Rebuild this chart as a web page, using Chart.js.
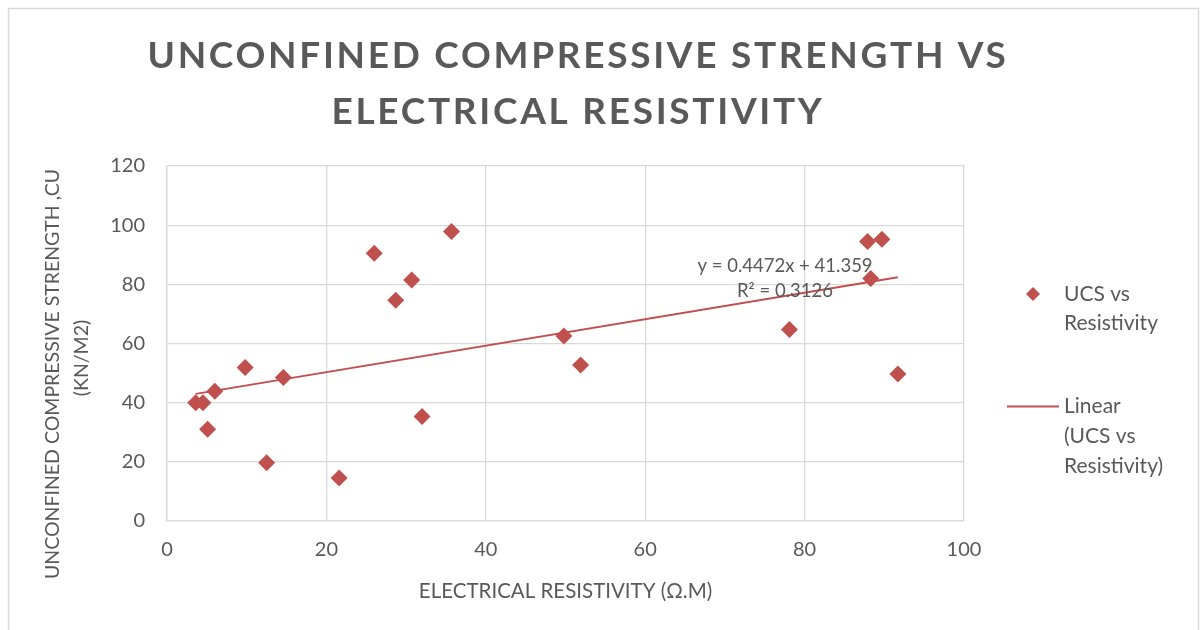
<!DOCTYPE html>
<html>
<head>
<meta charset="utf-8">
<title>UCS vs Resistivity</title>
<script src="https://cdn.jsdelivr.net/npm/chart.js@4.4.1/dist/chart.umd.min.js"></script>
<style>
    html, body { margin: 0; padding: 0; background: #ffffff; }
    #wrap { position: relative; width: 1202px; height: 630px; }
</style>
</head>
<body>
<div id="wrap"><canvas id="ucsChart" width="1202" height="630"></canvas></div>
<script>
// Data
const resistivity = [3.6, 4.5, 5.1, 6.0, 9.8, 12.5, 14.6, 21.6, 26.0, 28.7, 30.7, 32.0, 35.7, 49.8, 51.9, 78.1, 87.9, 89.7, 88.3, 91.7];
const ucsValues = [40.0, 40.0, 31.0, 43.9, 51.9, 19.7, 48.5, 14.5, 90.5, 74.6, 81.5, 35.3, 97.9, 62.5, 52.7, 64.7, 94.5, 95.2, 82.0, 49.7];

// Trendline as printed on the chart
const trendSlope = 0.4472;
const trendIntercept = 41.359;
const trendLabel = ['y = 0.4472x + 41.359', 'R\u00b2 = 0.3126'];

const xTicks = [0, 20, 40, 60, 80, 100];
const yTicks = [0, 20, 40, 60, 80, 100, 120];

const titleLines = ['UNCONFINED COMPRESSIVE STRENGTH VS', 'ELECTRICAL RESISTIVITY'];
const xTitle = 'ELECTRICAL RESISTIVITY (\u03a9.M)';
const yTitleLines = ['UNCONFINED COMPRESSIVE STRENGTH ,CU', '(KN/M2)'];
const seriesName = ['UCS vs', 'Resistivity'];
const trendName = ['Linear', '(UCS vs', 'Resistivity)'];

const RED = '#C0504D';
const TEXT = '#595959';
const GRID = '#d9d9d9';
const FONT = 'Lato, "Open Sans", sans-serif';

const points = resistivity.map((x, i) => ({ x: x, y: ucsValues[i] }));
const xMin = Math.min(...resistivity);
const xMax = Math.max(...resistivity);
const trendPoints = [
    { x: xMin, y: trendSlope * xMin + trendIntercept },
    { x: xMax, y: trendSlope * xMax + trendIntercept }
];

// Title, axis titles, legend, equation and outer frame
const decorations = {
    id: 'decorations',
    afterDraw(chart) {
        const ctx = chart.ctx;
        const area = chart.chartArea;
        ctx.save();

        ctx.strokeStyle = GRID;
        ctx.lineWidth = 1.5;
        ctx.strokeRect(8.5, 8.5, 1190, 650);

        ctx.fillStyle = TEXT;
        ctx.textAlign = 'center';
        ctx.textBaseline = 'middle';

        // chart title
        ctx.font = 'bold 37px ' + FONT;
        ctx.letterSpacing = '2.7px';
        ctx.fillText(titleLines[0], 578, 56);
        ctx.fillText(titleLines[1], 578, 112);
        ctx.letterSpacing = '0px';

        // x axis title
        ctx.font = '20.5px ' + FONT;
        ctx.fillText(xTitle, (area.left + area.right) / 2, 591);

        // y axis title
        ctx.font = '19.5px ' + FONT;
        ctx.save();
        ctx.translate(53, 374);
        ctx.rotate(-Math.PI / 2);
        ctx.fillText(yTitleLines[0], 0, 0);
        ctx.restore();
        ctx.save();
        ctx.translate(82, 358);
        ctx.rotate(-Math.PI / 2);
        ctx.fillText(yTitleLines[1], 0, 0);
        ctx.restore();

        // trendline equation
        ctx.font = '18.5px ' + FONT;
        ctx.fillText(trendLabel[0], 785, 266);
        ctx.fillText(trendLabel[1], 785, 291);

        // legend
        ctx.textAlign = 'left';
        ctx.font = '21px ' + FONT;
        ctx.fillStyle = RED;
        ctx.beginPath();
        ctx.moveTo(1033, 287);
        ctx.lineTo(1040, 294);
        ctx.lineTo(1033, 301);
        ctx.lineTo(1026, 294);
        ctx.closePath();
        ctx.fill();
        ctx.strokeStyle = RED;
        ctx.lineWidth = 2;
        ctx.beginPath();
        ctx.moveTo(1007, 406.5);
        ctx.lineTo(1059, 406.5);
        ctx.stroke();

        ctx.fillStyle = TEXT;
        ctx.fillText(seriesName[0], 1064, 294);
        ctx.fillText(seriesName[1], 1064, 323);
        ctx.fillText(trendName[0], 1064, 406);
        ctx.fillText(trendName[1], 1064, 436);
        ctx.fillText(trendName[2], 1064, 466);

        ctx.restore();
    }
};

const ctx = document.getElementById('ucsChart');
new Chart(ctx, {
    type: 'scatter',
    data: {
        datasets: [{
            label: 'UCS vs Resistivity',
            data: points,
            pointStyle: 'rectRot',
            pointRadius: 8.5,
            pointBackgroundColor: RED,
            pointBorderWidth: 0,
            showLine: false,
            order: 1
        }, {
            label: 'Linear (UCS vs Resistivity)',
            data: trendPoints,
            showLine: true,
            borderColor: RED,
            borderWidth: 2,
            pointRadius: 0,
            order: 0
        }]
    },
    options: {
        responsive: false,
        animation: false,
        layout: { padding: { left: 0, top: 166, right: 238, bottom: 0 } },
        plugins: {
            legend: { display: false },
            title: { display: false },
            tooltip: { enabled: false }
        },
        scales: {
            x: {
                type: 'linear',
                min: 0,
                max: 100,
                afterFit(scale) { scale.height = 109; },
                afterBuildTicks(scale) { scale.ticks = xTicks.map(v => ({ value: v })); },
                grid: { color: GRID, lineWidth: 1.3, drawTicks: false },
                border: { color: GRID, width: 1.3 },
                ticks: { color: TEXT, padding: 17, font: { family: FONT, size: 20 } }
            },
            y: {
                type: 'linear',
                min: 0,
                max: 120,
                afterFit(scale) { scale.width = 167; },
                afterBuildTicks(scale) { scale.ticks = yTicks.map(v => ({ value: v })); },
                grid: { color: GRID, lineWidth: 1.3, drawTicks: false },
                border: { color: GRID, width: 1.3 },
                ticks: { color: TEXT, padding: 22, font: { family: FONT, size: 20 } }
            }
        }
    },
    plugins: [decorations]
});
</script>
</body>
</html>
